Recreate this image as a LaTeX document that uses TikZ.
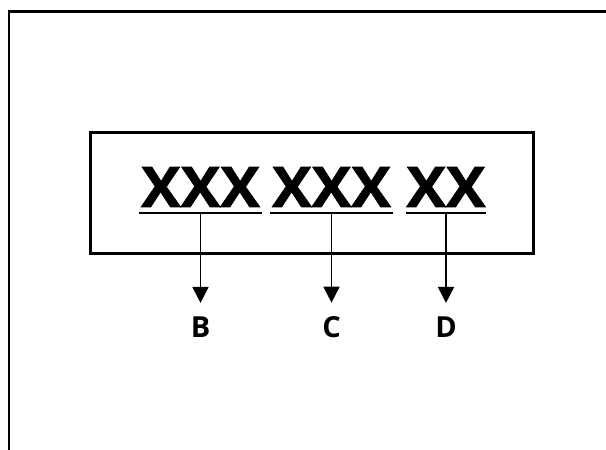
\documentclass[tikz,border=0pt]{standalone}
\usepackage{fontspec}
\setmainfont{Open Sans}
\newfontfamily\platefont[FakeStretch=1.06, FakeBold=1.2]{Open Sans Bold}
\usetikzlibrary{arrows.meta}

\begin{document}
\begin{tikzpicture}[x=1pt, y=1pt,
    frame/.style={line width=2.2pt},
    field/.style={inner sep=0pt, font=\fontsize{56}{56}\platefont},
    letter/.style={inner sep=0pt, font=\fontsize{29}{29}\selectfont\bfseries},
    uline/.style={line width=1.8pt},
    pointer/.style={line width=1.8pt, -{Triangle[width=16pt, length=16pt]}, shorten >=14pt}]
\useasboundingbox (0,0) rectangle (606,450);

% outer frame (open at right and bottom)
\draw[frame] (607,438.5) -- (9,438.5) -- (9,-1);

% plate
\draw[line width=3pt] (90,317) rectangle (533,196);

% the three fields
\node[field, minimum width=123pt, anchor=base] (g1) at (200.5,243) {XXX};
\node[field, minimum width=123pt, anchor=base] (g2) at (331.5,243) {XXX};
\node[field, minimum width=72pt, anchor=base] (g3) at (446,243) {XX};

\draw[uline] ([yshift=-6pt]g1.south west) -- ([yshift=-6pt]g1.south east);
\draw[uline] ([yshift=-6pt]g2.south west) -- ([yshift=-6pt]g2.south east);
\draw[uline] ([yshift=-6pt]g3.south west) -- ([yshift=-6pt]g3.south east);

% labels
\node[letter] (b) at (200.5,122.5) {B};
\node[letter] (c) at (331.5,122.5) {C};
\node[letter] (d) at (446,122.5) {D};

\draw[pointer] ([yshift=-6pt]g1.south) -- (b.north);
\draw[pointer] ([yshift=-6pt]g2.south) -- (c.north);
\draw[pointer] ([yshift=-6pt]g3.south) -- (d.north);
\end{tikzpicture}
\end{document}
